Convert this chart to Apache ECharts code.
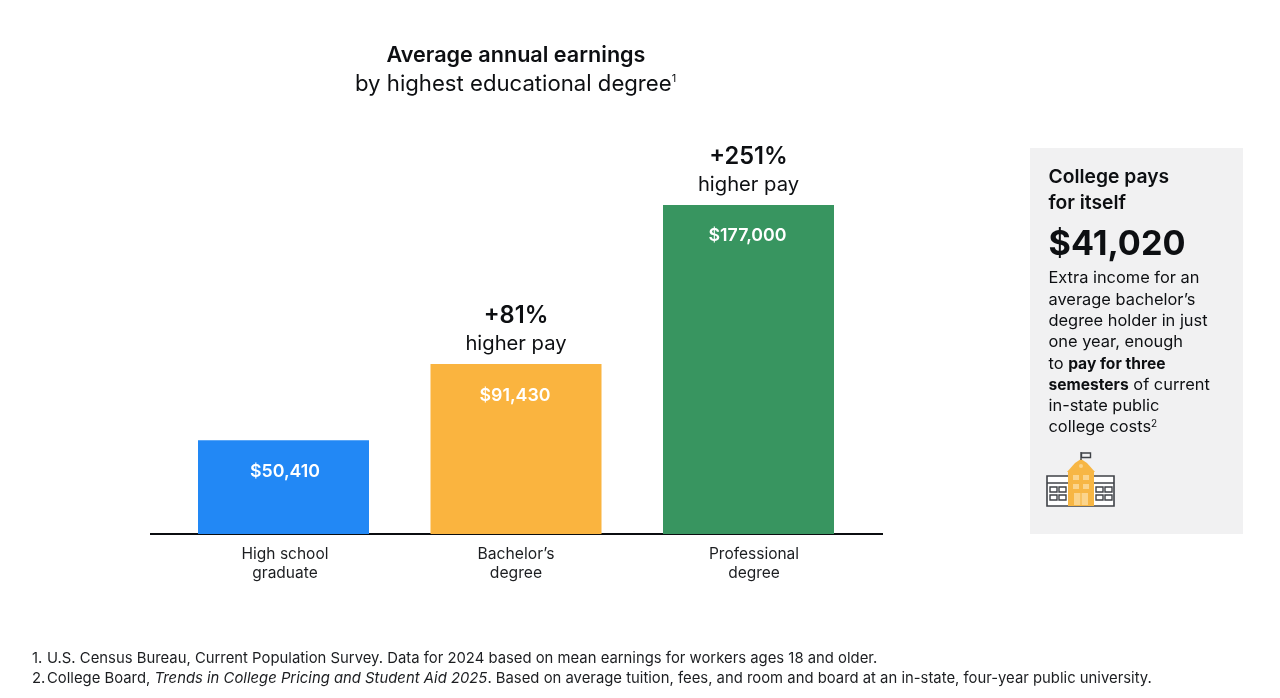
<!DOCTYPE html>
<html><head><meta charset="utf-8">
<style>html,body{margin:0;padding:0;background:#fff}#c{width:1280px;height:698px}</style>
<script src="https://cdn.jsdelivr.net/npm/echarts@6/dist/echarts.min.js"></script>
</head><body><div id="c"></div>
<script>
const categories = ['High school\ngraduate', 'Bachelor’s\ndegree', 'Professional\ndegree'];
const earnings = [50410, 91430, 177000];
const valueLabels = ['$50,410', '$91,430', '$177,000'];
const premiums = ['', '+81%', '+251%'];
const barColors = ['#2288f5', '#fab43f', '#389560'];
const FONT = 'Inter, "Noto Sans", sans-serif';
const INK = '#0d0f12';
const NOTE = '#1c1e21';

function txt(x, y, text, style) {
  return { type: 'text', x, y, style: Object.assign({ text, fontFamily: FONT, fill: INK, verticalAlign: 'middle' }, style) };
}
function box(x, y, width, height, fill, stroke, lw) {
  return { type: 'rect', shape: { x, y, width, height }, style: { fill: fill || 'transparent', stroke: stroke || null, lineWidth: lw || 0 } };
}
function seg(x1, y1, x2, y2, stroke, lw) {
  return { type: 'line', shape: { x1, y1, x2, y2 }, style: { stroke, lineWidth: lw } };
}

const DARK = '#3f4247', GOLD = '#f7b644', GOLDL = '#fbd48c';
const icon = [
  box(1047, 476, 67, 30, '#fff', DARK, 1.6),
  seg(1047, 483, 1114, 483, DARK, 1.4),
  box(1050, 487, 7, 5, null, DARK, 1.4), box(1059, 487, 7, 5, null, DARK, 1.4),
  box(1050, 495, 7, 5, null, DARK, 1.4), box(1059, 495, 7, 5, null, DARK, 1.4),
  box(1096, 487, 7, 5, null, DARK, 1.4), box(1105, 487, 7, 5, null, DARK, 1.4),
  box(1096, 495, 7, 5, null, DARK, 1.4), box(1105, 495, 7, 5, null, DARK, 1.4),
  { type: 'polygon', shape: { points: [[1067, 472], [1075, 463], [1081, 459], [1087, 463], [1095, 472]] }, style: { fill: GOLD } },
  box(1068, 472, 26, 34, GOLD),
  { type: 'circle', shape: { cx: 1081, cy: 466, r: 2 }, style: { fill: GOLDL } },
  box(1073, 475, 6, 5, GOLDL), box(1083, 475, 6, 5, GOLDL),
  box(1073, 484, 6, 5, GOLDL), box(1083, 484, 6, 5, GOLDL),
  box(1074, 493, 14, 12, GOLDL),
  seg(1081, 493, 1081, 505, GOLD, 1.2),
  seg(1081, 452, 1081, 460, DARK, 1.3),
  box(1081.5, 453, 9, 4.5, null, DARK, 1.4)
];

const chart = echarts.init(document.getElementById('c'), null, { renderer: 'canvas' });
chart.setOption({
  animation: false,
  backgroundColor: '#fff',
  grid: { left: 167.25, width: 697.5, top: 162.2, height: 371.8 },
  xAxis: {
    type: 'category', data: categories,
    axisLine: { show: false }, axisTick: { show: false },
    axisLabel: {
      margin: 10.5, interval: 0,
      formatter: (v, i) => v.split('\n').map(s => `{${['h', 'n', 'p'][i]}|${s}}`).join('\n'),
      rich: {
        n: { fontFamily: FONT, fontSize: 15.7, lineHeight: 19, color: NOTE },
        h: { fontFamily: FONT, fontSize: 15.5, lineHeight: 19, color: NOTE, padding: [0, 0, 0, 3] },
        p: { fontFamily: FONT, fontSize: 15.5, lineHeight: 19, color: NOTE, padding: [0, 0, 0, 11] }
      }
    }
  },
  yAxis: { type: 'value', min: 0, max: 200000, show: false },
  series: [
    {
      type: 'bar', barWidth: 171, barGap: '-100%', z: 2,
      data: earnings.map((v, i) => ({
        value: v,
        itemStyle: { color: barColors[i] },
        label: { offset: [[1.5, 0], [-1, 1], [-1, 0]][i] }
      })),
      label: {
        show: true, position: 'insideTop', distance: 20, color: '#fff',
        fontFamily: FONT, fontSize: 17.8, fontWeight: 600, lineHeight: 22,
        formatter: p => valueLabels[p.dataIndex]
      }
    },
    {
      type: 'bar', barWidth: 171, barGap: '-100%', z: 1, silent: true,
      data: earnings,
      itemStyle: { color: 'transparent' },
      label: {
        show: true, position: 'top', distance: 7.5,
        formatter: p => premiums[p.dataIndex] ? `{a|${premiums[p.dataIndex]}}\n{b|higher pay}` : '',
        rich: {
          a: { fontFamily: FONT, fontSize: 23.6, fontWeight: 600, lineHeight: 30, color: INK },
          b: { fontFamily: FONT, fontSize: 20.2, lineHeight: 26, color: INK }
        }
      }
    }
  ],
  graphic: [
    seg(150, 534, 883, 534, '#0b0d10', 2),
    txt(516, 55, 'Average annual earnings', { fontSize: 21.6, fontWeight: 600, align: 'center' }),
    {
      type: 'text', x: 355, y: 84,
      style: {
        text: '{t|by highest educational degree}{s|1}', verticalAlign: 'middle',
        rich: {
          t: { fontFamily: FONT, fontSize: 22.15, fill: INK },
          s: { fontFamily: FONT, fontSize: 11, fill: INK, verticalAlign: 'top', padding: [0, 0, 10, 0] }
        }
      }
    },
    box(1030, 148, 213, 386, '#f1f1f2'),
    txt(1048.5, 177.5, 'College pays', { fontSize: 19.3, fontWeight: 600 }),
    txt(1048.5, 203.5, 'for itself', { fontSize: 19.3, fontWeight: 600 }),
    txt(1048.5, 245, '$41,020', { fontSize: 34.2, fontWeight: 700 }),
    txt(1048.5, 278.5, 'Extra income for an', { fontSize: 16.4 }),
    txt(1048.5, 300.5, 'average bachelor’s', { fontSize: 16.4 }),
    txt(1048.5, 321, 'degree holder in just', { fontSize: 16.4 }),
    txt(1048.5, 342.5, 'one year, enough', { fontSize: 16.4 }),
    {
      type: 'text', x: 1048.5, y: 364.5,
      style: { text: '{n|to }{b|pay for three}', verticalAlign: 'middle', rich: {
        n: { fontFamily: FONT, fontSize: 16.4, fill: INK }, b: { fontFamily: FONT, fontSize: 15.6, fontWeight: 700, fill: INK } } }
    },
    {
      type: 'text', x: 1048.5, y: 385.5,
      style: { text: '{b|semesters}{n| of current}', verticalAlign: 'middle', rich: {
        n: { fontFamily: FONT, fontSize: 16.4, fill: INK }, b: { fontFamily: FONT, fontSize: 15.6, fontWeight: 700, fill: INK } } }
    },
    txt(1048.5, 406.5, 'in-state public', { fontSize: 16.4 }),
    {
      type: 'text', x: 1048.5, y: 427.5,
      style: { text: '{n|college costs}{s|2}', verticalAlign: 'middle', rich: {
        n: { fontFamily: FONT, fontSize: 16.4, fill: INK },
        s: { fontFamily: FONT, fontSize: 10, fill: INK, verticalAlign: 'top', padding: [0, 0, 8, 0] } } }
    },
    ...icon,
    txt(32, 658.5, '1.', { fontSize: 14.85, fill: NOTE }),
    txt(47, 658.5, 'U.S. Census Bureau, Current Population Survey. Data for 2024 based on mean earnings for workers ages 18 and older.', { fontSize: 14.85, fill: NOTE }),
    txt(32, 678.5, '2.', { fontSize: 14.85, fill: NOTE }),
    {
      type: 'text', x: 47, y: 678.5,
      style: { text: '{n|College Board, }{i|Trends in College Pricing and Student Aid 2025}{n|. Based on average tuition, fees, and room and board at an in-state, four-year public university.}', verticalAlign: 'middle', rich: {
        n: { fontFamily: FONT, fontSize: 14.85, fill: NOTE },
        i: { fontFamily: FONT, fontSize: 14.85, fontStyle: 'italic', fill: NOTE } } }
    }
  ]
});
</script></body></html>
